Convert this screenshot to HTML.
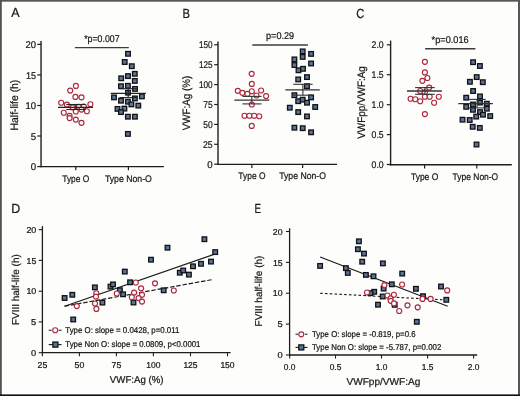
<!DOCTYPE html>
<html><head><meta charset="utf-8"><style>
html,body{margin:0;padding:0;background:#fdfdfb;}
body{width:520px;height:396px;overflow:hidden;}
svg{display:block;will-change:transform;}
text{font-family:"Liberation Sans",sans-serif;text-rendering:geometricPrecision;stroke:#161616;stroke-width:0.22px;}
</style></head><body>
<svg width="520" height="396" viewBox="0 0 520 396">
<rect x="0" y="0" width="520" height="396" fill="#fdfdfb"/>
<text x="15.45" y="17.4" font-size="13.2" text-anchor="middle" textLength="8.36" lengthAdjust="spacingAndGlyphs" fill="#161616">A</text>
<text x="186.2" y="17.5" font-size="13.2" text-anchor="middle" textLength="7.46" lengthAdjust="spacingAndGlyphs" fill="#161616">B</text>
<text x="360.2" y="17.5" font-size="13.2" text-anchor="middle" textLength="8.06" lengthAdjust="spacingAndGlyphs" fill="#161616">C</text>
<text x="15.65" y="212.6" font-size="13.2" text-anchor="middle" textLength="8.96" lengthAdjust="spacingAndGlyphs" fill="#161616">D</text>
<text x="257.85" y="212.8" font-size="13.2" text-anchor="middle" textLength="6.56" lengthAdjust="spacingAndGlyphs" fill="#161616">E</text>
<line x1="41.05" y1="41.0" x2="41.05" y2="167.35" stroke="#1e1e1e" stroke-width="1.4"/>
<line x1="40.349999999999994" y1="166.65" x2="163.8" y2="166.65" stroke="#1e1e1e" stroke-width="1.4"/>
<line x1="37.25" y1="44.4" x2="41.05" y2="44.4" stroke="#1e1e1e" stroke-width="1.2"/>
<text x="36.15" y="48.0" font-size="9.8" text-anchor="end" textLength="10.58" lengthAdjust="spacingAndGlyphs" fill="#161616">20</text>
<line x1="37.25" y1="74.9" x2="41.05" y2="74.9" stroke="#1e1e1e" stroke-width="1.2"/>
<text x="36.15" y="78.5" font-size="9.8" text-anchor="end" textLength="10.08" lengthAdjust="spacingAndGlyphs" fill="#161616">15</text>
<line x1="37.25" y1="105.5" x2="41.05" y2="105.5" stroke="#1e1e1e" stroke-width="1.2"/>
<text x="36.15" y="109.1" font-size="9.8" text-anchor="end" textLength="10.58" lengthAdjust="spacingAndGlyphs" fill="#161616">10</text>
<line x1="37.25" y1="136.0" x2="41.05" y2="136.0" stroke="#1e1e1e" stroke-width="1.2"/>
<text x="36.15" y="139.6" font-size="9.8" text-anchor="end" textLength="5.38" lengthAdjust="spacingAndGlyphs" fill="#161616">5</text>
<line x1="37.25" y1="166.6" x2="41.05" y2="166.6" stroke="#1e1e1e" stroke-width="1.2"/>
<text x="36.15" y="170.2" font-size="9.8" text-anchor="end" textLength="5.38" lengthAdjust="spacingAndGlyphs" fill="#161616">0</text>
<line x1="75.8" y1="166.65" x2="75.8" y2="170.25" stroke="#1e1e1e" stroke-width="1.2"/>
<text x="75.8" y="181.5" font-size="9.6" text-anchor="middle" textLength="27.07" lengthAdjust="spacingAndGlyphs" fill="#161616">Type O</text>
<line x1="128.4" y1="166.65" x2="128.4" y2="170.25" stroke="#1e1e1e" stroke-width="1.2"/>
<text x="128.4" y="181.5" font-size="9.6" text-anchor="middle" textLength="46.97" lengthAdjust="spacingAndGlyphs" fill="#161616">Type Non-O</text>
<text transform="translate(18.400000000000002,105.05) rotate(-90)" x="0" y="0" font-size="10.8" text-anchor="middle" textLength="50.76" lengthAdjust="spacingAndGlyphs" fill="#161616">Half-life (h)</text>
<text x="101.9" y="42.3" font-size="9.8" text-anchor="middle" textLength="35.38" lengthAdjust="spacingAndGlyphs" fill="#161616">*p=0.007</text>
<line x1="74.9" y1="47.6" x2="128.8" y2="47.6" stroke="#3c3c3c" stroke-width="1.4"/>
<circle cx="75.9" cy="85.9" r="2.5" fill="#fff" stroke="#ac283c" stroke-width="1.15"/>
<circle cx="70.2" cy="90.6" r="2.5" fill="#fff" stroke="#ac283c" stroke-width="1.15"/>
<circle cx="75.4" cy="96.9" r="2.5" fill="#fff" stroke="#ac283c" stroke-width="1.15"/>
<circle cx="81.5" cy="97.3" r="2.5" fill="#fff" stroke="#ac283c" stroke-width="1.15"/>
<circle cx="61.2" cy="102.7" r="2.5" fill="#fff" stroke="#ac283c" stroke-width="1.15"/>
<circle cx="66.9" cy="104.6" r="2.5" fill="#fff" stroke="#ac283c" stroke-width="1.15"/>
<circle cx="90.4" cy="104.2" r="2.5" fill="#fff" stroke="#ac283c" stroke-width="1.15"/>
<circle cx="72.7" cy="107.3" r="2.5" fill="#fff" stroke="#ac283c" stroke-width="1.15"/>
<circle cx="78.8" cy="106.9" r="2.5" fill="#fff" stroke="#ac283c" stroke-width="1.15"/>
<circle cx="83.8" cy="106.5" r="2.5" fill="#fff" stroke="#ac283c" stroke-width="1.15"/>
<circle cx="81.5" cy="109.6" r="2.5" fill="#fff" stroke="#ac283c" stroke-width="1.15"/>
<circle cx="75.8" cy="111.5" r="2.5" fill="#fff" stroke="#ac283c" stroke-width="1.15"/>
<circle cx="86.9" cy="111.2" r="2.5" fill="#fff" stroke="#ac283c" stroke-width="1.15"/>
<circle cx="63.8" cy="112.7" r="2.5" fill="#fff" stroke="#ac283c" stroke-width="1.15"/>
<circle cx="69.6" cy="115.8" r="2.5" fill="#fff" stroke="#ac283c" stroke-width="1.15"/>
<circle cx="69.6" cy="118.1" r="2.5" fill="#fff" stroke="#ac283c" stroke-width="1.15"/>
<circle cx="75.8" cy="119.6" r="2.5" fill="#fff" stroke="#ac283c" stroke-width="1.15"/>
<circle cx="81.5" cy="122.8" r="2.5" fill="#fff" stroke="#ac283c" stroke-width="1.15"/>
<rect x="125.70" y="51.50" width="4.6" height="4.6" fill="#5a739e" stroke="#111" stroke-width="1.3"/>
<rect x="122.40" y="59.70" width="4.6" height="4.6" fill="#5a739e" stroke="#111" stroke-width="1.3"/>
<rect x="129.50" y="63.90" width="4.6" height="4.6" fill="#5a739e" stroke="#111" stroke-width="1.3"/>
<rect x="132.50" y="71.50" width="4.6" height="4.6" fill="#5a739e" stroke="#111" stroke-width="1.3"/>
<rect x="125.70" y="73.80" width="4.6" height="4.6" fill="#5a739e" stroke="#111" stroke-width="1.3"/>
<rect x="118.90" y="76.00" width="4.6" height="4.6" fill="#5a739e" stroke="#111" stroke-width="1.3"/>
<rect x="132.50" y="78.60" width="4.6" height="4.6" fill="#5a739e" stroke="#111" stroke-width="1.3"/>
<rect x="118.70" y="83.90" width="4.6" height="4.6" fill="#5a739e" stroke="#111" stroke-width="1.3"/>
<rect x="125.60" y="83.50" width="4.6" height="4.6" fill="#5a739e" stroke="#111" stroke-width="1.3"/>
<rect x="132.70" y="86.60" width="4.6" height="4.6" fill="#5a739e" stroke="#111" stroke-width="1.3"/>
<rect x="125.70" y="90.40" width="4.6" height="4.6" fill="#5a739e" stroke="#111" stroke-width="1.3"/>
<rect x="111.70" y="95.10" width="4.6" height="4.6" fill="#5a739e" stroke="#111" stroke-width="1.3"/>
<rect x="118.70" y="98.40" width="4.6" height="4.6" fill="#5a739e" stroke="#111" stroke-width="1.3"/>
<rect x="125.60" y="99.40" width="4.6" height="4.6" fill="#5a739e" stroke="#111" stroke-width="1.3"/>
<rect x="132.60" y="96.10" width="4.6" height="4.6" fill="#5a739e" stroke="#111" stroke-width="1.3"/>
<rect x="139.60" y="94.10" width="4.6" height="4.6" fill="#5a739e" stroke="#111" stroke-width="1.3"/>
<rect x="129.10" y="102.10" width="4.6" height="4.6" fill="#5a739e" stroke="#111" stroke-width="1.3"/>
<rect x="136.00" y="103.30" width="4.6" height="4.6" fill="#5a739e" stroke="#111" stroke-width="1.3"/>
<rect x="115.20" y="106.60" width="4.6" height="4.6" fill="#5a739e" stroke="#111" stroke-width="1.3"/>
<rect x="122.10" y="106.30" width="4.6" height="4.6" fill="#5a739e" stroke="#111" stroke-width="1.3"/>
<rect x="118.70" y="109.80" width="4.6" height="4.6" fill="#5a739e" stroke="#111" stroke-width="1.3"/>
<rect x="125.60" y="114.40" width="4.6" height="4.6" fill="#5a739e" stroke="#111" stroke-width="1.3"/>
<rect x="132.60" y="114.40" width="4.6" height="4.6" fill="#5a739e" stroke="#111" stroke-width="1.3"/>
<rect x="125.60" y="131.60" width="4.6" height="4.6" fill="#5a739e" stroke="#111" stroke-width="1.3"/>
<line x1="66.3" y1="104.5" x2="85.6" y2="104.5" stroke="#222" stroke-width="1.1"/>
<line x1="66.3" y1="109.5" x2="85.6" y2="109.5" stroke="#222" stroke-width="1.1"/>
<line x1="75.9" y1="104.5" x2="75.9" y2="109.5" stroke="#222" stroke-width="1.1"/>
<line x1="58.0" y1="107.4" x2="93.1" y2="107.4" stroke="#222" stroke-width="1.2"/>
<line x1="119.5" y1="88.7" x2="136.9" y2="88.7" stroke="#222" stroke-width="1.1"/>
<line x1="119.5" y1="97.6" x2="136.9" y2="97.6" stroke="#222" stroke-width="1.1"/>
<line x1="128.2" y1="88.7" x2="128.2" y2="97.6" stroke="#222" stroke-width="1.1"/>
<line x1="110.7" y1="93.4" x2="145.8" y2="93.4" stroke="#222" stroke-width="1.2"/>
<line x1="218.0" y1="41.5" x2="218.0" y2="165.04999999999998" stroke="#1e1e1e" stroke-width="1.4"/>
<line x1="217.3" y1="164.35" x2="337.0" y2="164.35" stroke="#1e1e1e" stroke-width="1.4"/>
<line x1="214.2" y1="44.8" x2="218.0" y2="44.8" stroke="#1e1e1e" stroke-width="1.2"/>
<text x="212.6" y="48.4" font-size="9.8" text-anchor="end" textLength="13.68" lengthAdjust="spacingAndGlyphs" fill="#161616">150</text>
<line x1="214.2" y1="64.7" x2="218.0" y2="64.7" stroke="#1e1e1e" stroke-width="1.2"/>
<text x="212.6" y="68.3" font-size="9.8" text-anchor="end" textLength="13.68" lengthAdjust="spacingAndGlyphs" fill="#161616">125</text>
<line x1="214.2" y1="84.6" x2="218.0" y2="84.6" stroke="#1e1e1e" stroke-width="1.2"/>
<text x="212.6" y="88.19999999999999" font-size="9.8" text-anchor="end" textLength="13.68" lengthAdjust="spacingAndGlyphs" fill="#161616">100</text>
<line x1="214.2" y1="104.5" x2="218.0" y2="104.5" stroke="#1e1e1e" stroke-width="1.2"/>
<text x="212.6" y="108.1" font-size="9.8" text-anchor="end" textLength="9.38" lengthAdjust="spacingAndGlyphs" fill="#161616">75</text>
<line x1="214.2" y1="124.4" x2="218.0" y2="124.4" stroke="#1e1e1e" stroke-width="1.2"/>
<text x="212.6" y="128.0" font-size="9.8" text-anchor="end" textLength="9.38" lengthAdjust="spacingAndGlyphs" fill="#161616">50</text>
<line x1="214.2" y1="144.3" x2="218.0" y2="144.3" stroke="#1e1e1e" stroke-width="1.2"/>
<text x="212.6" y="147.9" font-size="9.8" text-anchor="end" textLength="9.68" lengthAdjust="spacingAndGlyphs" fill="#161616">25</text>
<line x1="214.2" y1="164.2" x2="218.0" y2="164.2" stroke="#1e1e1e" stroke-width="1.2"/>
<text x="212.6" y="167.79999999999998" font-size="9.8" text-anchor="end" textLength="5.38" lengthAdjust="spacingAndGlyphs" fill="#161616">0</text>
<line x1="251.9" y1="164.35" x2="251.9" y2="167.95" stroke="#1e1e1e" stroke-width="1.2"/>
<text x="251.9" y="178.7" font-size="9.6" text-anchor="middle" textLength="27.07" lengthAdjust="spacingAndGlyphs" fill="#161616">Type O</text>
<line x1="302.6" y1="164.35" x2="302.6" y2="167.95" stroke="#1e1e1e" stroke-width="1.2"/>
<text x="302.6" y="178.7" font-size="9.6" text-anchor="middle" textLength="46.77" lengthAdjust="spacingAndGlyphs" fill="#161616">Type Non-O</text>
<text transform="translate(190.4,103.05) rotate(-90)" x="0" y="0" font-size="10.8" text-anchor="middle" textLength="54.36" lengthAdjust="spacingAndGlyphs" fill="#161616">VWF:Ag (%)</text>
<text x="280.1" y="39.1" font-size="9.8" text-anchor="middle" textLength="28.08" lengthAdjust="spacingAndGlyphs" fill="#161616">p=0.29</text>
<line x1="252.3" y1="45.0" x2="307.9" y2="45.0" stroke="#3c3c3c" stroke-width="1.4"/>
<circle cx="251.7" cy="73.8" r="2.5" fill="#fff" stroke="#ac283c" stroke-width="1.15"/>
<circle cx="251.8" cy="83.9" r="2.5" fill="#fff" stroke="#ac283c" stroke-width="1.15"/>
<circle cx="237.8" cy="90.8" r="2.5" fill="#fff" stroke="#ac283c" stroke-width="1.15"/>
<circle cx="242.4" cy="92.8" r="2.5" fill="#fff" stroke="#ac283c" stroke-width="1.15"/>
<circle cx="247.4" cy="93.9" r="2.5" fill="#fff" stroke="#ac283c" stroke-width="1.15"/>
<circle cx="251.8" cy="91.2" r="2.5" fill="#fff" stroke="#ac283c" stroke-width="1.15"/>
<circle cx="256.5" cy="95.5" r="2.5" fill="#fff" stroke="#ac283c" stroke-width="1.15"/>
<circle cx="261.1" cy="90.5" r="2.5" fill="#fff" stroke="#ac283c" stroke-width="1.15"/>
<circle cx="266.1" cy="96.1" r="2.5" fill="#fff" stroke="#ac283c" stroke-width="1.15"/>
<circle cx="251.8" cy="104.5" r="2.5" fill="#fff" stroke="#ac283c" stroke-width="1.15"/>
<circle cx="244.5" cy="115.7" r="2.5" fill="#fff" stroke="#ac283c" stroke-width="1.15"/>
<circle cx="249.4" cy="115.7" r="2.5" fill="#fff" stroke="#ac283c" stroke-width="1.15"/>
<circle cx="254.2" cy="115.7" r="2.5" fill="#fff" stroke="#ac283c" stroke-width="1.15"/>
<circle cx="259.2" cy="116.2" r="2.5" fill="#fff" stroke="#ac283c" stroke-width="1.15"/>
<circle cx="251.7" cy="125.9" r="2.5" fill="#fff" stroke="#ac283c" stroke-width="1.15"/>
<rect x="300.40" y="49.10" width="4.6" height="4.6" fill="#5a739e" stroke="#111" stroke-width="1.3"/>
<rect x="308.80" y="51.60" width="4.6" height="4.6" fill="#5a739e" stroke="#111" stroke-width="1.3"/>
<rect x="300.40" y="54.60" width="4.6" height="4.6" fill="#5a739e" stroke="#111" stroke-width="1.3"/>
<rect x="292.10" y="57.10" width="4.6" height="4.6" fill="#5a739e" stroke="#111" stroke-width="1.3"/>
<rect x="308.80" y="61.20" width="4.6" height="4.6" fill="#5a739e" stroke="#111" stroke-width="1.3"/>
<rect x="292.10" y="62.70" width="4.6" height="4.6" fill="#5a739e" stroke="#111" stroke-width="1.3"/>
<rect x="296.20" y="68.00" width="4.6" height="4.6" fill="#5a739e" stroke="#111" stroke-width="1.3"/>
<rect x="300.70" y="66.50" width="4.6" height="4.6" fill="#5a739e" stroke="#111" stroke-width="1.3"/>
<rect x="304.70" y="74.80" width="4.6" height="4.6" fill="#5a739e" stroke="#111" stroke-width="1.3"/>
<rect x="295.90" y="77.10" width="4.6" height="4.6" fill="#5a739e" stroke="#111" stroke-width="1.3"/>
<rect x="304.70" y="83.90" width="4.6" height="4.6" fill="#5a739e" stroke="#111" stroke-width="1.3"/>
<rect x="292.10" y="92.90" width="4.6" height="4.6" fill="#5a739e" stroke="#111" stroke-width="1.3"/>
<rect x="295.90" y="98.90" width="4.6" height="4.6" fill="#5a739e" stroke="#111" stroke-width="1.3"/>
<rect x="300.40" y="97.40" width="4.6" height="4.6" fill="#5a739e" stroke="#111" stroke-width="1.3"/>
<rect x="304.70" y="100.40" width="4.6" height="4.6" fill="#5a739e" stroke="#111" stroke-width="1.3"/>
<rect x="308.80" y="95.10" width="4.6" height="4.6" fill="#5a739e" stroke="#111" stroke-width="1.3"/>
<rect x="287.50" y="105.40" width="4.6" height="4.6" fill="#5a739e" stroke="#111" stroke-width="1.3"/>
<rect x="312.90" y="104.70" width="4.6" height="4.6" fill="#5a739e" stroke="#111" stroke-width="1.3"/>
<rect x="295.90" y="109.80" width="4.6" height="4.6" fill="#5a739e" stroke="#111" stroke-width="1.3"/>
<rect x="304.70" y="114.10" width="4.6" height="4.6" fill="#5a739e" stroke="#111" stroke-width="1.3"/>
<rect x="292.10" y="125.40" width="4.6" height="4.6" fill="#5a739e" stroke="#111" stroke-width="1.3"/>
<rect x="300.40" y="125.90" width="4.6" height="4.6" fill="#5a739e" stroke="#111" stroke-width="1.3"/>
<rect x="308.80" y="130.00" width="4.6" height="4.6" fill="#5a739e" stroke="#111" stroke-width="1.3"/>
<line x1="242.4" y1="96.4" x2="261.6" y2="96.4" stroke="#333" stroke-width="1.1"/>
<line x1="242.4" y1="103.9" x2="261.6" y2="103.9" stroke="#333" stroke-width="1.1"/>
<line x1="251.8" y1="96.4" x2="251.8" y2="103.9" stroke="#333" stroke-width="1.1"/>
<line x1="234.3" y1="100.05" x2="269.3" y2="100.05" stroke="#333" stroke-width="1.3"/>
<line x1="293.3" y1="84.3" x2="312.6" y2="84.3" stroke="#333" stroke-width="1.1"/>
<line x1="293.3" y1="95.2" x2="312.6" y2="95.2" stroke="#333" stroke-width="1.1"/>
<line x1="302.9" y1="84.3" x2="302.9" y2="95.2" stroke="#333" stroke-width="1.1"/>
<line x1="285.3" y1="89.8" x2="319.8" y2="89.8" stroke="#333" stroke-width="1.3"/>
<line x1="390.6" y1="40.6" x2="390.6" y2="165.5" stroke="#1e1e1e" stroke-width="1.4"/>
<line x1="389.90000000000003" y1="164.8" x2="511.8" y2="164.8" stroke="#1e1e1e" stroke-width="1.4"/>
<line x1="386.8" y1="44.8" x2="390.6" y2="44.8" stroke="#1e1e1e" stroke-width="1.2"/>
<text x="383.70000000000005" y="48.4" font-size="9.8" text-anchor="end" textLength="12.08" lengthAdjust="spacingAndGlyphs" fill="#161616">2.0</text>
<line x1="386.8" y1="74.7" x2="390.6" y2="74.7" stroke="#1e1e1e" stroke-width="1.2"/>
<text x="383.70000000000005" y="78.3" font-size="9.8" text-anchor="end" textLength="12.08" lengthAdjust="spacingAndGlyphs" fill="#161616">1.5</text>
<line x1="386.8" y1="104.7" x2="390.6" y2="104.7" stroke="#1e1e1e" stroke-width="1.2"/>
<text x="383.70000000000005" y="108.3" font-size="9.8" text-anchor="end" textLength="12.08" lengthAdjust="spacingAndGlyphs" fill="#161616">1.0</text>
<line x1="386.8" y1="134.6" x2="390.6" y2="134.6" stroke="#1e1e1e" stroke-width="1.2"/>
<text x="383.70000000000005" y="138.2" font-size="9.8" text-anchor="end" textLength="12.08" lengthAdjust="spacingAndGlyphs" fill="#161616">0.5</text>
<line x1="386.8" y1="164.5" x2="390.6" y2="164.5" stroke="#1e1e1e" stroke-width="1.2"/>
<text x="383.70000000000005" y="168.1" font-size="9.8" text-anchor="end" textLength="12.08" lengthAdjust="spacingAndGlyphs" fill="#161616">0.0</text>
<line x1="424.6" y1="164.8" x2="424.6" y2="168.4" stroke="#1e1e1e" stroke-width="1.2"/>
<text x="424.6" y="179.5" font-size="9.6" text-anchor="middle" textLength="27.27" lengthAdjust="spacingAndGlyphs" fill="#161616">Type O</text>
<line x1="476.8" y1="164.8" x2="476.8" y2="168.4" stroke="#1e1e1e" stroke-width="1.2"/>
<text x="475.4" y="179.5" font-size="9.6" text-anchor="middle" textLength="45.57" lengthAdjust="spacingAndGlyphs" fill="#161616">Type Non-O</text>
<text transform="translate(364.6,102.5) rotate(-90)" x="0" y="0" font-size="10.8" text-anchor="middle" textLength="72.66" lengthAdjust="spacingAndGlyphs" fill="#161616">VWFpp/VWF:Ag</text>
<text x="450.1" y="43.4" font-size="9.8" text-anchor="middle" textLength="36.98" lengthAdjust="spacingAndGlyphs" fill="#161616">*p=0.016</text>
<line x1="425.1" y1="48.7" x2="475.4" y2="48.7" stroke="#3c3c3c" stroke-width="1.4"/>
<circle cx="424.9" cy="61.8" r="2.5" fill="#fff" stroke="#ac283c" stroke-width="1.15"/>
<circle cx="424.9" cy="72.4" r="2.5" fill="#fff" stroke="#ac283c" stroke-width="1.15"/>
<circle cx="427.4" cy="78.0" r="2.5" fill="#fff" stroke="#ac283c" stroke-width="1.15"/>
<circle cx="422.4" cy="80.8" r="2.5" fill="#fff" stroke="#ac283c" stroke-width="1.15"/>
<circle cx="429.2" cy="87.6" r="2.5" fill="#fff" stroke="#ac283c" stroke-width="1.15"/>
<circle cx="420.2" cy="91.0" r="2.5" fill="#fff" stroke="#ac283c" stroke-width="1.15"/>
<circle cx="424.9" cy="92.3" r="2.5" fill="#fff" stroke="#ac283c" stroke-width="1.15"/>
<circle cx="424.9" cy="96.7" r="2.5" fill="#fff" stroke="#ac283c" stroke-width="1.15"/>
<circle cx="429.7" cy="96.7" r="2.5" fill="#fff" stroke="#ac283c" stroke-width="1.15"/>
<circle cx="438.8" cy="96.7" r="2.5" fill="#fff" stroke="#ac283c" stroke-width="1.15"/>
<circle cx="410.6" cy="98.7" r="2.5" fill="#fff" stroke="#ac283c" stroke-width="1.15"/>
<circle cx="415.3" cy="99.2" r="2.5" fill="#fff" stroke="#ac283c" stroke-width="1.15"/>
<circle cx="420.2" cy="101.2" r="2.5" fill="#fff" stroke="#ac283c" stroke-width="1.15"/>
<circle cx="434.1" cy="102.7" r="2.5" fill="#fff" stroke="#ac283c" stroke-width="1.15"/>
<circle cx="424.9" cy="114.1" r="2.5" fill="#fff" stroke="#ac283c" stroke-width="1.15"/>
<rect x="470.80" y="59.90" width="4.6" height="4.6" fill="#5a739e" stroke="#111" stroke-width="1.3"/>
<rect x="477.60" y="63.70" width="4.6" height="4.6" fill="#5a739e" stroke="#111" stroke-width="1.3"/>
<rect x="474.40" y="74.80" width="4.6" height="4.6" fill="#5a739e" stroke="#111" stroke-width="1.3"/>
<rect x="467.60" y="79.50" width="4.6" height="4.6" fill="#5a739e" stroke="#111" stroke-width="1.3"/>
<rect x="480.50" y="79.90" width="4.6" height="4.6" fill="#5a739e" stroke="#111" stroke-width="1.3"/>
<rect x="470.80" y="88.70" width="4.6" height="4.6" fill="#5a739e" stroke="#111" stroke-width="1.3"/>
<rect x="463.90" y="95.40" width="4.6" height="4.6" fill="#5a739e" stroke="#111" stroke-width="1.3"/>
<rect x="477.70" y="94.10" width="4.6" height="4.6" fill="#5a739e" stroke="#111" stroke-width="1.3"/>
<rect x="477.70" y="100.30" width="4.6" height="4.6" fill="#5a739e" stroke="#111" stroke-width="1.3"/>
<rect x="470.70" y="102.20" width="4.6" height="4.6" fill="#5a739e" stroke="#111" stroke-width="1.3"/>
<rect x="484.50" y="101.40" width="4.6" height="4.6" fill="#5a739e" stroke="#111" stroke-width="1.3"/>
<rect x="463.90" y="104.50" width="4.6" height="4.6" fill="#5a739e" stroke="#111" stroke-width="1.3"/>
<rect x="470.70" y="107.50" width="4.6" height="4.6" fill="#5a739e" stroke="#111" stroke-width="1.3"/>
<rect x="484.50" y="106.40" width="4.6" height="4.6" fill="#5a739e" stroke="#111" stroke-width="1.3"/>
<rect x="477.70" y="109.80" width="4.6" height="4.6" fill="#5a739e" stroke="#111" stroke-width="1.3"/>
<rect x="480.70" y="112.40" width="4.6" height="4.6" fill="#5a739e" stroke="#111" stroke-width="1.3"/>
<rect x="473.90" y="114.30" width="4.6" height="4.6" fill="#5a739e" stroke="#111" stroke-width="1.3"/>
<rect x="487.90" y="113.80" width="4.6" height="4.6" fill="#5a739e" stroke="#111" stroke-width="1.3"/>
<rect x="460.20" y="117.40" width="4.6" height="4.6" fill="#5a739e" stroke="#111" stroke-width="1.3"/>
<rect x="467.40" y="117.70" width="4.6" height="4.6" fill="#5a739e" stroke="#111" stroke-width="1.3"/>
<rect x="470.40" y="124.50" width="4.6" height="4.6" fill="#5a739e" stroke="#111" stroke-width="1.3"/>
<rect x="477.50" y="125.60" width="4.6" height="4.6" fill="#5a739e" stroke="#111" stroke-width="1.3"/>
<rect x="474.20" y="142.20" width="4.6" height="4.6" fill="#5a739e" stroke="#111" stroke-width="1.3"/>
<line x1="415.1" y1="87.6" x2="434.8" y2="87.6" stroke="#333" stroke-width="1.1"/>
<line x1="415.1" y1="94.3" x2="434.8" y2="94.3" stroke="#333" stroke-width="1.1"/>
<line x1="424.9" y1="87.6" x2="424.9" y2="94.3" stroke="#333" stroke-width="1.1"/>
<line x1="407.0" y1="91.0" x2="441.9" y2="91.0" stroke="#333" stroke-width="1.3"/>
<line x1="468.6" y1="99.4" x2="485.7" y2="99.4" stroke="#333" stroke-width="1.1"/>
<line x1="468.6" y1="107.9" x2="485.7" y2="107.9" stroke="#333" stroke-width="1.1"/>
<line x1="477.1" y1="99.4" x2="477.1" y2="107.9" stroke="#333" stroke-width="1.1"/>
<line x1="458.3" y1="103.7" x2="492.9" y2="103.7" stroke="#333" stroke-width="1.3"/>
<line x1="42.4" y1="226.1" x2="42.4" y2="353.3" stroke="#1e1e1e" stroke-width="1.3"/>
<line x1="41.8" y1="352.7" x2="230.6" y2="352.7" stroke="#1e1e1e" stroke-width="1.3"/>
<line x1="38.699999999999996" y1="229.7" x2="42.4" y2="229.7" stroke="#1e1e1e" stroke-width="1.1"/>
<text x="36.3" y="232.79999999999998" font-size="8.6" text-anchor="end" textLength="9.89" lengthAdjust="spacingAndGlyphs" fill="#161616">20</text>
<line x1="38.699999999999996" y1="260.4" x2="42.4" y2="260.4" stroke="#1e1e1e" stroke-width="1.1"/>
<text x="36.3" y="263.5" font-size="8.6" text-anchor="end" textLength="9.69" lengthAdjust="spacingAndGlyphs" fill="#161616">15</text>
<line x1="38.699999999999996" y1="291.2" x2="42.4" y2="291.2" stroke="#1e1e1e" stroke-width="1.1"/>
<text x="36.3" y="294.3" font-size="8.6" text-anchor="end" textLength="9.89" lengthAdjust="spacingAndGlyphs" fill="#161616">10</text>
<line x1="38.699999999999996" y1="321.9" x2="42.4" y2="321.9" stroke="#1e1e1e" stroke-width="1.1"/>
<text x="36.3" y="325.0" font-size="8.6" text-anchor="end" textLength="5.19" lengthAdjust="spacingAndGlyphs" fill="#161616">5</text>
<line x1="38.699999999999996" y1="352.7" x2="42.4" y2="352.7" stroke="#1e1e1e" stroke-width="1.1"/>
<text x="36.3" y="355.8" font-size="8.6" text-anchor="end" textLength="5.19" lengthAdjust="spacingAndGlyphs" fill="#161616">0</text>
<line x1="42.4" y1="352.7" x2="42.4" y2="356.3" stroke="#1e1e1e" stroke-width="1.1"/>
<text x="42.4" y="367.6" font-size="8.6" text-anchor="middle" textLength="9.69" lengthAdjust="spacingAndGlyphs" fill="#161616">25</text>
<line x1="79.4" y1="352.7" x2="79.4" y2="356.3" stroke="#1e1e1e" stroke-width="1.1"/>
<text x="79.4" y="367.6" font-size="8.6" text-anchor="middle" textLength="9.69" lengthAdjust="spacingAndGlyphs" fill="#161616">50</text>
<line x1="116.4" y1="352.7" x2="116.4" y2="356.3" stroke="#1e1e1e" stroke-width="1.1"/>
<text x="116.4" y="367.6" font-size="8.6" text-anchor="middle" textLength="9.69" lengthAdjust="spacingAndGlyphs" fill="#161616">75</text>
<line x1="153.4" y1="352.7" x2="153.4" y2="356.3" stroke="#1e1e1e" stroke-width="1.1"/>
<text x="153.4" y="367.6" font-size="8.6" text-anchor="middle" textLength="14.19" lengthAdjust="spacingAndGlyphs" fill="#161616">100</text>
<line x1="190.5" y1="352.7" x2="190.5" y2="356.3" stroke="#1e1e1e" stroke-width="1.1"/>
<text x="190.5" y="367.6" font-size="8.6" text-anchor="middle" textLength="14.19" lengthAdjust="spacingAndGlyphs" fill="#161616">125</text>
<line x1="227.5" y1="352.7" x2="227.5" y2="356.3" stroke="#1e1e1e" stroke-width="1.1"/>
<text x="227.5" y="367.6" font-size="8.6" text-anchor="middle" textLength="14.19" lengthAdjust="spacingAndGlyphs" fill="#161616">150</text>
<text x="136.7" y="382.5" font-size="10" text-anchor="middle" textLength="53.70" lengthAdjust="spacingAndGlyphs" fill="#161616">VWF:Ag (%)</text>
<text transform="translate(18.6,289.65) rotate(-90)" x="0" y="0" font-size="10" text-anchor="middle" textLength="70.90" lengthAdjust="spacingAndGlyphs" fill="#161616">FVIII half-life (h)</text>
<line x1="64.6" y1="306.2" x2="213.9" y2="254.4" stroke="#1a1a1a" stroke-width="1.2"/>
<line x1="64.6" y1="306.2" x2="212.9" y2="279.5" stroke="#1a1a1a" stroke-width="1.2" stroke-dasharray="4.5,1.8"/>
<rect x="62.30" y="295.70" width="4.6" height="4.6" fill="#5a739e" stroke="#111" stroke-width="1.3"/>
<rect x="70.00" y="292.50" width="4.6" height="4.6" fill="#5a739e" stroke="#111" stroke-width="1.3"/>
<rect x="70.90" y="317.20" width="4.6" height="4.6" fill="#5a739e" stroke="#111" stroke-width="1.3"/>
<rect x="92.60" y="285.10" width="4.6" height="4.6" fill="#5a739e" stroke="#111" stroke-width="1.3"/>
<rect x="100.10" y="300.30" width="4.6" height="4.6" fill="#5a739e" stroke="#111" stroke-width="1.3"/>
<rect x="108.20" y="284.30" width="4.6" height="4.6" fill="#5a739e" stroke="#111" stroke-width="1.3"/>
<rect x="110.70" y="282.10" width="4.6" height="4.6" fill="#5a739e" stroke="#111" stroke-width="1.3"/>
<rect x="122.50" y="269.30" width="4.6" height="4.6" fill="#5a739e" stroke="#111" stroke-width="1.3"/>
<rect x="117.60" y="287.90" width="4.6" height="4.6" fill="#5a739e" stroke="#111" stroke-width="1.3"/>
<rect x="120.80" y="292.00" width="4.6" height="4.6" fill="#5a739e" stroke="#111" stroke-width="1.3"/>
<rect x="127.80" y="280.00" width="4.6" height="4.6" fill="#5a739e" stroke="#111" stroke-width="1.3"/>
<rect x="131.20" y="300.20" width="4.6" height="4.6" fill="#5a739e" stroke="#111" stroke-width="1.3"/>
<rect x="148.70" y="257.40" width="4.6" height="4.6" fill="#5a739e" stroke="#111" stroke-width="1.3"/>
<rect x="161.40" y="288.00" width="4.6" height="4.6" fill="#5a739e" stroke="#111" stroke-width="1.3"/>
<rect x="165.20" y="245.40" width="4.6" height="4.6" fill="#5a739e" stroke="#111" stroke-width="1.3"/>
<rect x="177.50" y="270.40" width="4.6" height="4.6" fill="#5a739e" stroke="#111" stroke-width="1.3"/>
<rect x="180.90" y="268.20" width="4.6" height="4.6" fill="#5a739e" stroke="#111" stroke-width="1.3"/>
<rect x="186.60" y="272.30" width="4.6" height="4.6" fill="#5a739e" stroke="#111" stroke-width="1.3"/>
<rect x="190.70" y="264.00" width="4.6" height="4.6" fill="#5a739e" stroke="#111" stroke-width="1.3"/>
<rect x="198.70" y="261.50" width="4.6" height="4.6" fill="#5a739e" stroke="#111" stroke-width="1.3"/>
<rect x="202.10" y="236.90" width="4.6" height="4.6" fill="#5a739e" stroke="#111" stroke-width="1.3"/>
<rect x="208.70" y="259.30" width="4.6" height="4.6" fill="#5a739e" stroke="#111" stroke-width="1.3"/>
<rect x="212.90" y="249.80" width="4.6" height="4.6" fill="#5a739e" stroke="#111" stroke-width="1.3"/>
<circle cx="76.8" cy="306.1" r="2.5" fill="#fff" stroke="#ac283c" stroke-width="1.15"/>
<circle cx="96.3" cy="293.2" r="2.5" fill="#fff" stroke="#ac283c" stroke-width="1.15"/>
<circle cx="96.0" cy="296.6" r="2.5" fill="#fff" stroke="#ac283c" stroke-width="1.15"/>
<circle cx="95.0" cy="303.5" r="2.5" fill="#fff" stroke="#ac283c" stroke-width="1.15"/>
<circle cx="96.4" cy="308.9" r="2.5" fill="#fff" stroke="#ac283c" stroke-width="1.15"/>
<circle cx="116.8" cy="293.5" r="2.5" fill="#fff" stroke="#ac283c" stroke-width="1.15"/>
<circle cx="135.8" cy="282.5" r="2.5" fill="#fff" stroke="#ac283c" stroke-width="1.15"/>
<circle cx="141.1" cy="288.3" r="2.5" fill="#fff" stroke="#ac283c" stroke-width="1.15"/>
<circle cx="134.1" cy="292.6" r="2.5" fill="#fff" stroke="#ac283c" stroke-width="1.15"/>
<circle cx="142.0" cy="294.8" r="2.5" fill="#fff" stroke="#ac283c" stroke-width="1.15"/>
<circle cx="131.8" cy="297.2" r="2.5" fill="#fff" stroke="#ac283c" stroke-width="1.15"/>
<circle cx="138.6" cy="298.1" r="2.5" fill="#fff" stroke="#ac283c" stroke-width="1.15"/>
<circle cx="142.0" cy="301.6" r="2.5" fill="#fff" stroke="#ac283c" stroke-width="1.15"/>
<circle cx="155.0" cy="283.3" r="2.5" fill="#fff" stroke="#ac283c" stroke-width="1.15"/>
<circle cx="173.8" cy="290.5" r="2.5" fill="#fff" stroke="#ac283c" stroke-width="1.15"/>
<line x1="48.7" y1="330.2" x2="61.6" y2="330.2" stroke="#1a1a1a" stroke-width="1.1" stroke-dasharray="3,7,3"/>
<circle cx="55.2" cy="330.2" r="2.5" fill="#fff" stroke="#ac283c" stroke-width="1.15"/>
<line x1="48.7" y1="344.6" x2="61.6" y2="344.6" stroke="#1a1a1a" stroke-width="1.1"/>
<rect x="52.90" y="342.10" width="5.0" height="5.0" fill="#5a739e" stroke="#111" stroke-width="1.3"/>
<text x="65.3" y="332.7" font-size="8.5" text-anchor="start" textLength="114.08" lengthAdjust="spacingAndGlyphs" fill="#161616">Type O: slope = 0.0428, p=0.011</text>
<text x="65.3" y="346.9" font-size="8.5" text-anchor="start" textLength="135.18" lengthAdjust="spacingAndGlyphs" fill="#161616">Type Non O: slope = 0.0809, p&lt;0.0001</text>
<line x1="289.6" y1="228.2" x2="289.6" y2="355.6" stroke="#1e1e1e" stroke-width="1.3"/>
<line x1="289.0" y1="355.0" x2="477.2" y2="355.0" stroke="#1e1e1e" stroke-width="1.3"/>
<line x1="285.90000000000003" y1="231.5" x2="289.6" y2="231.5" stroke="#1e1e1e" stroke-width="1.1"/>
<text x="282.6" y="234.6" font-size="8.6" text-anchor="end" textLength="9.79" lengthAdjust="spacingAndGlyphs" fill="#161616">20</text>
<line x1="285.90000000000003" y1="262.4" x2="289.6" y2="262.4" stroke="#1e1e1e" stroke-width="1.1"/>
<text x="282.6" y="265.5" font-size="8.6" text-anchor="end" textLength="9.69" lengthAdjust="spacingAndGlyphs" fill="#161616">15</text>
<line x1="285.90000000000003" y1="293.25" x2="289.6" y2="293.25" stroke="#1e1e1e" stroke-width="1.1"/>
<text x="282.6" y="296.35" font-size="8.6" text-anchor="end" textLength="9.79" lengthAdjust="spacingAndGlyphs" fill="#161616">10</text>
<line x1="285.90000000000003" y1="324.1" x2="289.6" y2="324.1" stroke="#1e1e1e" stroke-width="1.1"/>
<text x="282.6" y="327.20000000000005" font-size="8.6" text-anchor="end" textLength="5.19" lengthAdjust="spacingAndGlyphs" fill="#161616">5</text>
<line x1="285.90000000000003" y1="355.0" x2="289.6" y2="355.0" stroke="#1e1e1e" stroke-width="1.1"/>
<text x="282.6" y="358.1" font-size="8.6" text-anchor="end" textLength="5.19" lengthAdjust="spacingAndGlyphs" fill="#161616">0</text>
<line x1="289.7" y1="355.0" x2="289.7" y2="358.6" stroke="#1e1e1e" stroke-width="1.1"/>
<text x="289.7" y="369.6" font-size="8.6" text-anchor="middle" textLength="11.69" lengthAdjust="spacingAndGlyphs" fill="#161616">0.0</text>
<line x1="335.5" y1="355.0" x2="335.5" y2="358.6" stroke="#1e1e1e" stroke-width="1.1"/>
<text x="335.5" y="369.6" font-size="8.6" text-anchor="middle" textLength="11.69" lengthAdjust="spacingAndGlyphs" fill="#161616">0.5</text>
<line x1="381.5" y1="355.0" x2="381.5" y2="358.6" stroke="#1e1e1e" stroke-width="1.1"/>
<text x="381.5" y="369.6" font-size="8.6" text-anchor="middle" textLength="11.69" lengthAdjust="spacingAndGlyphs" fill="#161616">1.0</text>
<line x1="427.6" y1="355.0" x2="427.6" y2="358.6" stroke="#1e1e1e" stroke-width="1.1"/>
<text x="427.6" y="369.6" font-size="8.6" text-anchor="middle" textLength="11.69" lengthAdjust="spacingAndGlyphs" fill="#161616">1.5</text>
<line x1="473.6" y1="355.0" x2="473.6" y2="358.6" stroke="#1e1e1e" stroke-width="1.1"/>
<text x="473.6" y="369.6" font-size="8.6" text-anchor="middle" textLength="11.69" lengthAdjust="spacingAndGlyphs" fill="#161616">2.0</text>
<text x="383.4" y="384.7" font-size="10" text-anchor="middle" textLength="73.80" lengthAdjust="spacingAndGlyphs" fill="#161616">VWFpp/VWF:Ag</text>
<text transform="translate(261.9,291.05) rotate(-90)" x="0" y="0" font-size="10" text-anchor="middle" textLength="70.70" lengthAdjust="spacingAndGlyphs" fill="#161616">FVIII half-life (h)</text>
<line x1="320.1" y1="257.0" x2="447.7" y2="306.3" stroke="#1a1a1a" stroke-width="1.2"/>
<line x1="320.1" y1="293.2" x2="442.4" y2="299.8" stroke="#1a1a1a" stroke-width="1.1" stroke-dasharray="2.6,2.2"/>
<rect x="317.80" y="263.60" width="4.6" height="4.6" fill="#5a739e" stroke="#111" stroke-width="1.3"/>
<rect x="343.60" y="265.80" width="4.6" height="4.6" fill="#5a739e" stroke="#111" stroke-width="1.3"/>
<rect x="345.50" y="270.60" width="4.6" height="4.6" fill="#5a739e" stroke="#111" stroke-width="1.3"/>
<rect x="356.60" y="239.00" width="4.6" height="4.6" fill="#5a739e" stroke="#111" stroke-width="1.3"/>
<rect x="355.60" y="246.90" width="4.6" height="4.6" fill="#5a739e" stroke="#111" stroke-width="1.3"/>
<rect x="361.70" y="251.30" width="4.6" height="4.6" fill="#5a739e" stroke="#111" stroke-width="1.3"/>
<rect x="359.90" y="259.40" width="4.6" height="4.6" fill="#5a739e" stroke="#111" stroke-width="1.3"/>
<rect x="380.60" y="261.10" width="4.6" height="4.6" fill="#5a739e" stroke="#111" stroke-width="1.3"/>
<rect x="363.60" y="272.60" width="4.6" height="4.6" fill="#5a739e" stroke="#111" stroke-width="1.3"/>
<rect x="371.20" y="274.00" width="4.6" height="4.6" fill="#5a739e" stroke="#111" stroke-width="1.3"/>
<rect x="389.50" y="282.00" width="4.6" height="4.6" fill="#5a739e" stroke="#111" stroke-width="1.3"/>
<rect x="381.30" y="286.30" width="4.6" height="4.6" fill="#5a739e" stroke="#111" stroke-width="1.3"/>
<rect x="371.90" y="289.50" width="4.6" height="4.6" fill="#5a739e" stroke="#111" stroke-width="1.3"/>
<rect x="368.20" y="290.90" width="4.6" height="4.6" fill="#5a739e" stroke="#111" stroke-width="1.3"/>
<rect x="380.40" y="294.20" width="4.6" height="4.6" fill="#5a739e" stroke="#111" stroke-width="1.3"/>
<rect x="375.70" y="302.40" width="4.6" height="4.6" fill="#5a739e" stroke="#111" stroke-width="1.3"/>
<rect x="392.40" y="302.50" width="4.6" height="4.6" fill="#5a739e" stroke="#111" stroke-width="1.3"/>
<rect x="399.90" y="271.30" width="4.6" height="4.6" fill="#5a739e" stroke="#111" stroke-width="1.3"/>
<rect x="413.60" y="286.50" width="4.6" height="4.6" fill="#5a739e" stroke="#111" stroke-width="1.3"/>
<rect x="420.70" y="293.90" width="4.6" height="4.6" fill="#5a739e" stroke="#111" stroke-width="1.3"/>
<rect x="438.70" y="284.20" width="4.6" height="4.6" fill="#5a739e" stroke="#111" stroke-width="1.3"/>
<rect x="444.00" y="297.50" width="4.6" height="4.6" fill="#5a739e" stroke="#111" stroke-width="1.3"/>
<rect x="414.50" y="319.50" width="4.6" height="4.6" fill="#5a739e" stroke="#111" stroke-width="1.3"/>
<circle cx="384.4" cy="285.1" r="2.5" fill="#fff" stroke="#ac283c" stroke-width="1.15"/>
<circle cx="402.1" cy="284.5" r="2.5" fill="#fff" stroke="#ac283c" stroke-width="1.15"/>
<circle cx="367.0" cy="292.5" r="2.5" fill="#fff" stroke="#ac283c" stroke-width="1.15"/>
<circle cx="387.5" cy="295.5" r="2.5" fill="#fff" stroke="#ac283c" stroke-width="1.15"/>
<circle cx="393.9" cy="294.7" r="2.5" fill="#fff" stroke="#ac283c" stroke-width="1.15"/>
<circle cx="390.5" cy="298.5" r="2.5" fill="#fff" stroke="#ac283c" stroke-width="1.15"/>
<circle cx="390.7" cy="300.8" r="2.5" fill="#fff" stroke="#ac283c" stroke-width="1.15"/>
<circle cx="394.0" cy="303.4" r="2.5" fill="#fff" stroke="#ac283c" stroke-width="1.15"/>
<circle cx="399.2" cy="311.0" r="2.5" fill="#fff" stroke="#ac283c" stroke-width="1.15"/>
<circle cx="407.5" cy="305.3" r="2.5" fill="#fff" stroke="#ac283c" stroke-width="1.15"/>
<circle cx="417.7" cy="307.3" r="2.5" fill="#fff" stroke="#ac283c" stroke-width="1.15"/>
<circle cx="422.5" cy="298.9" r="2.5" fill="#fff" stroke="#ac283c" stroke-width="1.15"/>
<circle cx="430.6" cy="298.9" r="2.5" fill="#fff" stroke="#ac283c" stroke-width="1.15"/>
<circle cx="447.2" cy="290.4" r="2.5" fill="#fff" stroke="#ac283c" stroke-width="1.15"/>
<line x1="295.5" y1="334.3" x2="307.5" y2="334.3" stroke="#1a1a1a" stroke-width="1.1" stroke-dasharray="2.5,7,2.5"/>
<circle cx="301.3" cy="334.3" r="2.5" fill="#fff" stroke="#ac283c" stroke-width="1.15"/>
<line x1="295.5" y1="347.4" x2="307.5" y2="347.4" stroke="#1a1a1a" stroke-width="1.1"/>
<rect x="298.80" y="344.90" width="5.0" height="5.0" fill="#5a739e" stroke="#111" stroke-width="1.3"/>
<text x="312.0" y="336.5" font-size="8.5" text-anchor="start" textLength="103.58" lengthAdjust="spacingAndGlyphs" fill="#161616">Type O: slope = -0.819, p=0.6</text>
<text x="312.0" y="349.6" font-size="8.5" text-anchor="start" textLength="129.28" lengthAdjust="spacingAndGlyphs" fill="#161616">Type Non O: slope = -5.787, p=0.002</text>
<rect x="0" y="0" width="520" height="1.7" fill="#575753"/>
<rect x="0" y="0" width="1.8" height="396" fill="#525252"/>
<rect x="518" y="0" width="2" height="396" fill="#575757"/>
<rect x="0" y="394.4" width="520" height="1.6" fill="#111"/>
</svg>
</body></html>
